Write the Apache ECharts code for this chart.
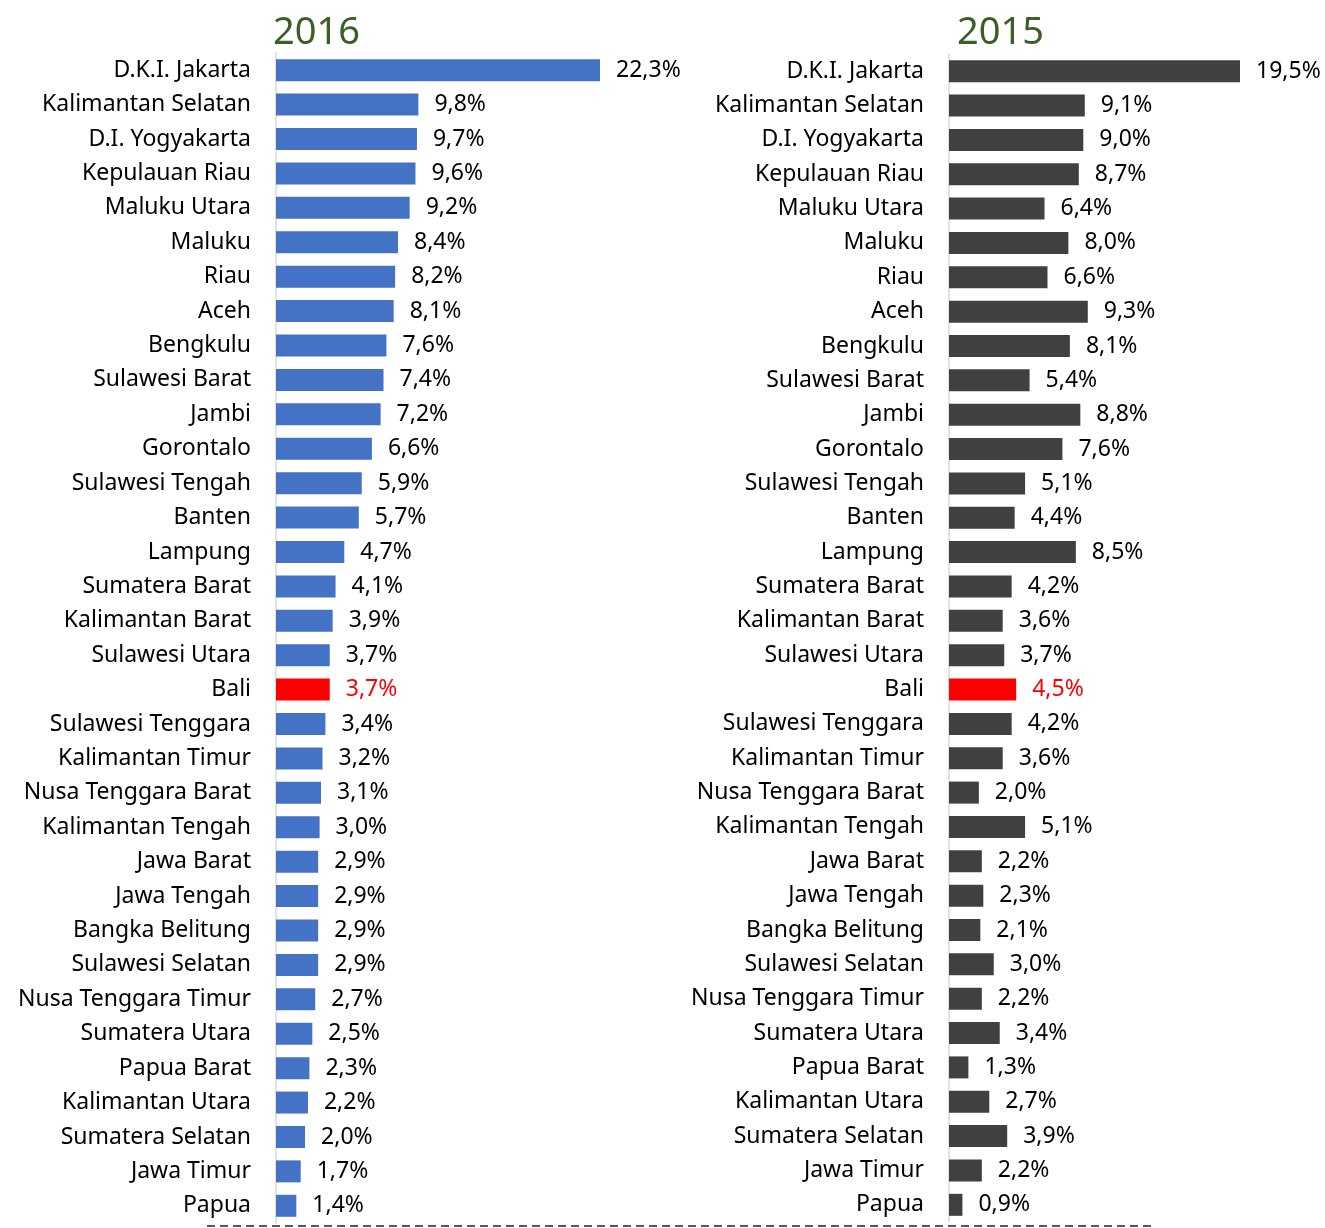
<!DOCTYPE html>
<html>
<head>
<meta charset="utf-8">
<script src="https://cdn.jsdelivr.net/npm/echarts@6/dist/echarts.min.js"></script>
<style>
  html, body { margin: 0; padding: 0; background: #fff; }
  #chart { width: 1325px; height: 1228px; }
</style>
</head>
<body>
<div id="chart"></div>
<script>
// provinsi, urut sesuai 2016
var provinces = ['D.K.I. Jakarta', 'Kalimantan Selatan', 'D.I. Yogyakarta', 'Kepulauan Riau', 'Maluku Utara',
  'Maluku', 'Riau', 'Aceh', 'Bengkulu', 'Sulawesi Barat', 'Jambi', 'Gorontalo', 'Sulawesi Tengah', 'Banten',
  'Lampung', 'Sumatera Barat', 'Kalimantan Barat', 'Sulawesi Utara', 'Bali', 'Sulawesi Tenggara',
  'Kalimantan Timur', 'Nusa Tenggara Barat', 'Kalimantan Tengah', 'Jawa Barat', 'Jawa Tengah',
  'Bangka Belitung', 'Sulawesi Selatan', 'Nusa Tenggara Timur', 'Sumatera Utara', 'Papua Barat',
  'Kalimantan Utara', 'Sumatera Selatan', 'Jawa Timur', 'Papua']
var values2016 = [22.3, 9.8, 9.7, 9.6, 9.2, 8.4, 8.2, 8.1, 7.6, 7.4, 7.2, 6.6, 5.9, 5.7, 4.7, 4.1, 3.9, 3.7, 3.7, 3.4,
  3.2, 3.1, 3.0, 2.9, 2.9, 2.9, 2.9, 2.7, 2.5, 2.3, 2.2, 2.0, 1.7, 1.4]
var values2015 = [19.5, 9.1, 9.0, 8.7, 6.4, 8.0, 6.6, 9.3, 8.1, 5.4, 8.8, 7.6, 5.1, 4.4, 8.5, 4.2, 3.6, 3.7, 4.5, 4.2,
  3.6, 2.0, 5.1, 2.2, 2.3, 2.1, 3.0, 2.2, 3.4, 1.3, 2.7, 3.9, 2.2, 0.9]
var titles = ['2016', '2015']
var highlight = 'Bali'

var FONT = 'Noto Sans'

function fmt(v) {
  return v.toFixed(1).replace('.', ',') + '%'
}

function makeData(vals, color) {
  return vals.map(function(v, i) {
    var hot = provinces[i] === highlight
    return {
      value: v,
      itemStyle: {color: hot ? '#ff0000' : color},
      label: {color: hot ? '#ff0000' : '#000'}
    }
  })
}

function catAxis(idx) {
  return {
    type: 'category',
    gridIndex: idx,
    inverse: true,
    data: provinces,
    axisLine: {lineStyle: {color: '#d9d9d9', width: 1.5}},
    axisTick: {length: 6, lineStyle: {color: '#d9d9d9', width: 1.5}},
    axisLabel: {
      margin: 25, fontSize: 23, color: '#000', fontFamily: FONT
    }
  }
}

function valAxis(idx, max) {
  return {
    type: 'value', gridIndex: idx, min: 0, max: max,
    show: false, splitLine: {show: false}
  }
}

function barSeries(idx, vals, color) {
  return {
    type: 'bar',
    xAxisIndex: idx, yAxisIndex: idx,
    barWidth: 22,
    data: makeData(vals, color),
    label: {
      show: true, position: 'right', distance: 16,
      fontSize: 23, fontFamily: FONT,
      formatter: function(p) { return fmt(p.value) }
    }
  }
}

var chart = echarts.init(document.getElementById('chart'))
chart.setOption({
  animation: false,
  backgroundColor: '#fff',
  title: [
    {text: titles[0], left: 268, top: 9, textStyle: {fontSize: 38, fontWeight: 'normal', color: '#3a5e24', fontFamily: FONT}},
    {text: titles[1], left: 952, top: 9, textStyle: {fontSize: 38, fontWeight: 'normal', color: '#3a5e24', fontFamily: FONT}}
  ],
  grid: [
    {left: 276, width: 324, top: 53, height: 1170},
    {left: 949, width: 291, top: 54, height: 1168}
  ],
  xAxis: [valAxis(0, values2016[0]), valAxis(1, values2015[0])],
  yAxis: [catAxis(0), catAxis(1)],
  series: [barSeries(0, values2016, '#4472c4'), barSeries(1, values2015, '#404040')],
  graphic: [{
    type: 'line',
    shape: {x1: 207, y1: 1226, x2: 1152, y2: 1226},
    style: {stroke: '#222', lineWidth: 1.5, lineDash: [8, 5]}
  }]
})
</script>
</body>
</html>
